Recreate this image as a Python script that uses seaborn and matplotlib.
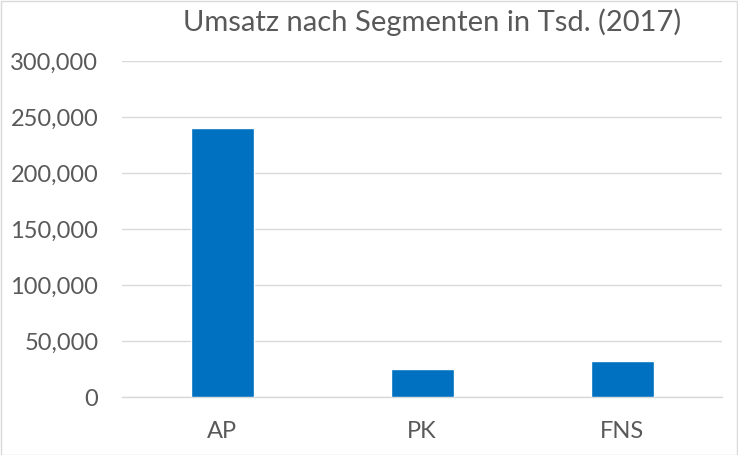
import matplotlib
matplotlib.use("Agg")
import matplotlib.pyplot as plt
import seaborn as sns
import pandas as pd
from matplotlib.ticker import FuncFormatter, MultipleLocator

categories = ["AP", "PK", "FNS"]
values = [240000, 25000, 32000]
title = "Umsatz nach Segmenten in Tsd. (2017)"

df = pd.DataFrame({"Segment": categories, "Umsatz": values})

sns.set_style("white")
plt.rcParams['font.family'] = ['Lato', 'DejaVu Sans']

fig = plt.figure(figsize=(7.38, 4.55), dpi=100)
ax = fig.add_axes([122/738, 1-397/455, 600/738, 336/455])

sns.barplot(data=df, x="Segment", y="Umsatz", color="#0070C0", width=0.315,
            saturation=1, ax=ax, zorder=3)

ax.set_ylim(0, 300000)
ax.set_xlim(-0.5, 2.5)
ax.yaxis.set_major_locator(MultipleLocator(50000))
ax.yaxis.set_major_formatter(FuncFormatter(lambda v, p: f"{int(v):,}"))
ax.grid(axis="y", color="#d9d9d9", linewidth=1, zorder=0)
ax.set_axisbelow(True)
for s in ["top", "right", "left"]:
    ax.spines[s].set_visible(False)
ax.spines["bottom"].set_color("#d9d9d9")
ax.spines["bottom"].set_linewidth(1)
ax.tick_params(axis="both", length=0, labelsize=17, colors="#595959")
ax.tick_params(axis="y", pad=17)
ax.tick_params(axis="x", pad=17)
ax.set_xlabel("")
ax.set_ylabel("")
fig.text(0.585, 0.952, title, ha="center", va="center", fontsize=21, color="#595959")

border = plt.Rectangle((0.001, 0.001), 0.998, 0.997, transform=fig.transFigure,
                       fill=False, edgecolor="#d9d9d9", linewidth=1)
fig.patches.append(border)

fig.savefig("out.png", dpi=100)
